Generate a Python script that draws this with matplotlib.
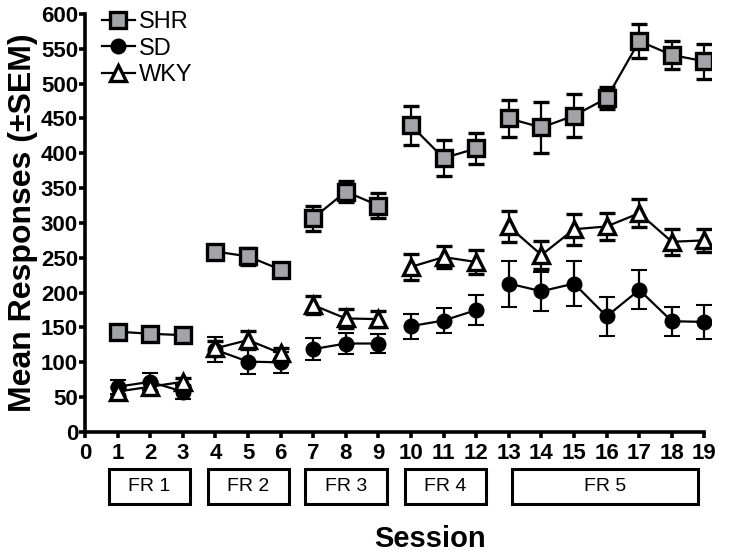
import matplotlib
matplotlib.use("Agg")
import matplotlib.pyplot as plt
from matplotlib.patches import Rectangle
from matplotlib.lines import Line2D

plt.rcParams['font.family'] = ['Liberation Sans', 'DejaVu Sans']

sessions = list(range(1, 20))
shr = [144, 141, 139, 259, 252, 233, 307, 345, 325, 440, 393, 407, 450, 437, 454, 479, 561, 541, 532]
shr_sem = [6, 5, 5, 8, 12, 10, 18, 15, 18, 28, 26, 22, 27, 36, 31, 16, 25, 20, 25]
sd = [65, 72, 58, 118, 101, 100, 119, 127, 127, 152, 160, 175, 213, 202, 213, 166, 204, 159, 158]
sd_sem = [10, 12, 10, 18, 18, 15, 16, 15, 14, 18, 18, 21, 33, 28, 32, 28, 28, 21, 24]
wky = [58, 65, 72, 120, 132, 113, 182, 163, 162, 237, 251, 244, 295, 254, 291, 295, 314, 273, 275]
wky_sem = [6, 7, 6, 10, 13, 8, 13, 14, 12, 19, 16, 17, 22, 20, 22, 20, 20, 19, 16]

phases = ["FR 1", "FR 2", "FR 3", "FR 4", "FR 5"]
phase_sessions = [(1, 3), (4, 6), (7, 9), (10, 12), (13, 19)]
box_spans = [(0.73, 3.22), (3.76, 6.25), (6.76, 9.25), (9.8, 12.3), (13.1, 18.8)]

fig = plt.figure(figsize=(7.29, 5.56), dpi=100)
ax = fig.add_axes([0.1166, 0.223, 0.8587, 0.752])

styles = {
    "SHR": dict(marker="s", ms=11, mfc="#a3a3aa", mec="black", mew=2.4, zorder=4),
    "SD": dict(marker="o", ms=10, mfc="black", mec="black", mew=1.5, zorder=3),
    "WKY": dict(marker="^", ms=12, mfc="white", mec="black", mew=2.4, zorder=3),
}
groups = [("SHR", shr, shr_sem), ("SD", sd, sd_sem), ("WKY", wky, wky_sem)]

# one line per FR block, blocks are not joined
for name, vals, sem in groups:
    st = styles[name]
    for a, b in phase_sessions:
        xs = sessions[a - 1:b]
        ys = vals[a - 1:b]
        es = sem[a - 1:b]
        ax.errorbar(xs, ys, yerr=es, color="black", lw=1.6, elinewidth=1.6,
                    capsize=5.5, capthick=1.8, **st)

ax.set_xlim(0, 19.2)
ax.set_ylim(0, 600)
ax.spines["top"].set_visible(False)
ax.spines["right"].set_visible(False)
ax.spines["left"].set_linewidth(2.6)
ax.spines["bottom"].set_linewidth(2.6)
ax.spines["bottom"].set_bounds(0, 19)
ax.set_xticks(range(0, 20))
ax.set_yticks(range(0, 601, 50))
ax.tick_params(direction="out", length=4, width=2.6, labelsize=16)
for lab in ax.get_xticklabels() + ax.get_yticklabels():
    lab.set_fontweight("bold")
ax.tick_params(axis="y", pad=1)
ax.tick_params(axis="x", pad=4)

ax.set_ylabel("Mean Responses (\u00b1SEM)", fontsize=23, fontweight="bold", labelpad=2)

for name, (x0, x1) in zip(phases, box_spans):
    r = Rectangle((x0, -103), x1 - x0, 50, fill=False, lw=2.2, ec="black", clip_on=False)
    ax.add_patch(r)
    ax.text((x0 + x1) / 2, -78, name, ha="center", va="center", fontsize=14, clip_on=False)

fig.text(0.59, 0.006, "Session", ha="center", va="bottom", fontsize=21, fontweight="bold")

handles = [Line2D([], [], color="black", lw=1.6, **styles[n]) for n, _, _ in groups]
ax.legend(handles, [n for n, _, _ in groups], loc="upper left", bbox_to_anchor=(0.012, 1.03),
          frameon=False, fontsize=17, handlelength=1.4, handletextpad=0.15,
          labelspacing=0.2, borderaxespad=0)

fig.savefig("out.png", dpi=100)
